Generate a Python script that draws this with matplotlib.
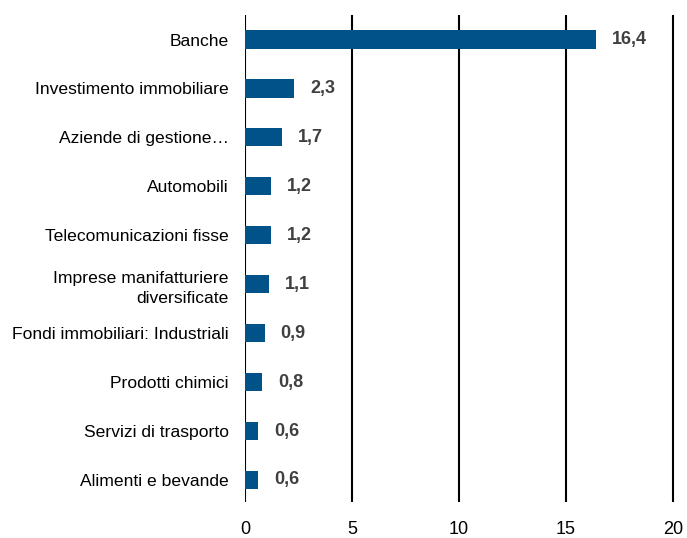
import matplotlib
matplotlib.use("Agg")
import matplotlib.pyplot as plt
from matplotlib import font_manager

names = {f.name for f in font_manager.fontManager.ttflist}
fam = ['Liberation Sans Narrow', 'Liberation Sans', 'DejaVu Sans'] if 'Liberation Sans Narrow' in names else ['Liberation Sans', 'DejaVu Sans']
plt.rcParams['font.family'] = fam

categories = ["Banche", "Investimento immobiliare", "Aziende di gestione…", "Automobili",
              "Telecomunicazioni fisse", "Imprese manifatturiere\ndiversificate",
              "Fondi immobiliari: Industriali", "Prodotti chimici", "Servizi di trasporto",
              "Alimenti e bevande"]
values = [16.4, 2.3, 1.7, 1.2, 1.2, 1.1, 0.9, 0.8, 0.6, 0.6]
labels = ["16,4", "2,3", "1,7", "1,2", "1,2", "1,1", "0,9", "0,8", "0,6", "0,6"]
xticks = [0, 5, 10, 15, 20]

fig = plt.figure(figsize=(6.87, 5.38), dpi=100)
ax = fig.add_axes([0.357, 0.067, 0.6255, 0.905])
ypos = list(range(len(categories)))
ax.barh(ypos, values, height=0.37, color='#005288', zorder=3)
for y, v, l in zip(ypos, values, labels):
    ax.text(v + 0.75, y, l, va='center', ha='left', fontsize=13, fontweight='bold', color='#404040')
ax.set_yticks(ypos)
ax.set_yticklabels(categories, fontsize=12.6, color='black', linespacing=1.45)
ax.set_ylim(9.45, -0.5)
ax.set_xlim(0, 20.1)
ax.set_xticks(xticks)
ax.set_xticklabels([str(t) for t in xticks], fontsize=13)
ax.grid(axis='x', color='black', linewidth=1.5, zorder=0)
for s in ax.spines.values():
    s.set_visible(False)
ax.tick_params(axis='both', length=0)
ax.tick_params(axis='y', pad=12)
ax.tick_params(axis='x', pad=14)
fig.savefig('out.png', dpi=100)
